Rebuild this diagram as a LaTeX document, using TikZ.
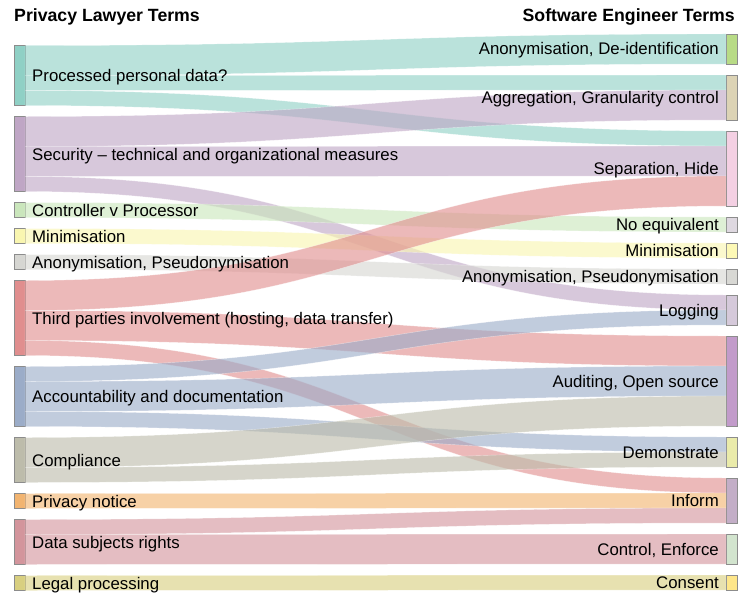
\documentclass[tikz,border=0pt]{standalone}
\usepackage{fontspec}
\setmainfont{Liberation Sans}
\usetikzlibrary{positioning,calc}

% lawyer side
\definecolor{proC}{HTML}{8FD0C5}
\definecolor{secC}{HTML}{BFA6C5}
\definecolor{ctlC}{HTML}{CAE6BC}
\definecolor{minC}{HTML}{F9F6B0}
\definecolor{anonC}{HTML}{D6D6D2}
\definecolor{thirdC}{HTML}{E08E8E}
\definecolor{accC}{HTML}{9BACC8}
\definecolor{compC}{HTML}{BDBCAB}
\definecolor{noticeC}{HTML}{F2B470}
\definecolor{rightsC}{HTML}{D3959C}
\definecolor{legalC}{HTML}{D8CF80}
% engineer side
\definecolor{deidC}{HTML}{B8DB86}
\definecolor{aggrC}{HTML}{DCD3B5}
\definecolor{sepC}{HTML}{F4D0E3}
\definecolor{noeqC}{HTML}{DED8E0}
\definecolor{rminC}{HTML}{FDF9B6}
\definecolor{pseudoC}{HTML}{D8D8D4}
\definecolor{logC}{HTML}{D5C9DA}
\definecolor{auditC}{HTML}{C29BCA}
\definecolor{demoC}{HTML}{EAEBAA}
\definecolor{informC}{HTML}{C3AEC7}
\definecolor{enforceC}{HTML}{D2E4CE}
\definecolor{consentC}{HTML}{FEE68A}

% colour, from node, offset, to node, offset, size (in units of 15pt)
\newcommand{\band}[6]{%
  \path[flow, fill=#1] let \p1=($(#2.north east)+(0,#3*15)$), \p2=($(#4.north west)+(0,#5*15)$), \p3=($(\p1)!.5!(\p2)$) in
    (\p1) .. controls (\x3,\y1) and (\x3,\y2) .. (\p2) -- (\x2,{\y2-#6*15pt})
    .. controls (\x3,{\y2-#6*15pt}) and (\x3,{\y1-#6*15pt}) .. (\x1,{\y1-#6*15pt}) -- cycle;}

\begin{document}
\begin{tikzpicture}[x=1pt, y=-1pt,
  bar/.style={draw=black!45, line width=.7pt, minimum width=11pt, inner sep=0pt, outer sep=0pt},
  lab/.style={font=\fontsize{16.8pt}{20pt}\selectfont, inner sep=0pt, text height=12pt, text depth=0pt},
  head/.style={font=\bfseries\fontsize{17.7pt}{21pt}\selectfont, inner sep=0pt},
  flow/.style={fill opacity=.62, draw=white, draw opacity=.5, line width=.4pt}]
\useasboundingbox (0,0) rectangle (738,594);

	\node[head, anchor=base west] (lawyer) at (14,22) {Privacy Lawyer Terms};
	\node[head, anchor=base east] (engineer) at (735,22) {Software Engineer Terms};

	\node[bar, anchor=north west, fill=proC, minimum height=60pt] (pro) at (14,45.5) {};
	\node[bar, fill=secC, minimum height=75pt, below=11pt of pro] (sec) {};
	\node[bar, fill=ctlC, minimum height=15pt, below=11pt of sec] (ctl) {};
	\node[bar, fill=minC, minimum height=15pt, below=11pt of ctl] (mini) {};
	\node[bar, fill=anonC, minimum height=15pt, below=11pt of mini] (anon) {};
	\node[bar, fill=thirdC, minimum height=75pt, below=11pt of anon] (third) {};
	\node[bar, fill=accC, minimum height=60pt, below=11pt of third] (acc) {};
	\node[bar, fill=compC, minimum height=45pt, below=11pt of acc] (comp) {};
	\node[bar, fill=noticeC, minimum height=15pt, below=11pt of comp] (notice) {};
	\node[bar, fill=rightsC, minimum height=45pt, below=11pt of notice] (rights) {};
	\node[bar, fill=legalC, minimum height=15pt, below=11pt of rights] (legal) {};

	\node[bar, anchor=north west, fill=deidC, minimum height=30pt] (deid) at (726,34) {};
	\node[bar, fill=aggrC, minimum height=45pt, below=11pt of deid] (aggr) {};
	\node[bar, fill=sepC, minimum height=75pt, below=11pt of aggr] (sep) {};
	\node[bar, fill=noeqC, minimum height=15pt, below=11pt of sep] (noeq) {};
	\node[bar, fill=rminC, minimum height=15pt, below=11pt of noeq] (rmin) {};
	\node[bar, fill=pseudoC, minimum height=15pt, below=11pt of rmin] (pseudo) {};
	\node[bar, fill=logC, minimum height=30pt, below=11pt of pseudo] (log) {};
	\node[bar, fill=auditC, minimum height=90pt, below=11pt of log] (audit) {};
	\node[bar, fill=demoC, minimum height=30pt, below=11pt of audit] (demo) {};
	\node[bar, fill=informC, minimum height=45pt, below=11pt of demo] (inform) {};
	\node[bar, fill=enforceC, minimum height=30pt, below=11pt of inform] (enforce) {};
	\node[bar, fill=consentC, minimum height=15pt, below=11pt of enforce] (consent) {};

	% flows
	\band{proC}{pro}{0}{deid}{0}{2}
	\band{proC}{pro}{2}{aggr}{0}{1}
	\band{proC}{pro}{3}{sep}{0}{1}
	\band{secC}{sec}{0}{aggr}{1}{2}
	\band{secC}{sec}{2}{sep}{1}{2}
	\band{secC}{sec}{4}{log}{0}{1}
	\band{ctlC}{ctl}{0}{noeq}{0}{1}
	\band{minC}{mini}{0}{rmin}{0}{1}
	\band{anonC}{anon}{0}{pseudo}{0}{1}
	\band{thirdC}{third}{0}{sep}{3}{2}
	\band{thirdC}{third}{2}{audit}{0}{2}
	\band{thirdC}{third}{4}{inform}{0}{1}
	\band{accC}{acc}{0}{log}{1}{1}
	\band{accC}{acc}{1}{audit}{2}{2}
	\band{accC}{acc}{3}{demo}{0}{1}
	\band{compC}{comp}{0}{audit}{4}{2}
	\band{compC}{comp}{2}{demo}{1}{1}
	\band{noticeC}{notice}{0}{inform}{1}{1}
	\band{rightsC}{rights}{0}{inform}{2}{1}
	\band{rightsC}{rights}{1}{enforce}{0}{2}
	\band{legalC}{legal}{0}{consent}{0}{1}

	\node[lab, right=7pt of pro] (proL) {Processed personal data?};
	\node[lab, right=7pt of sec] (secL) {Security \textendash\ technical and organizational measures};
	\node[lab, right=7pt of ctl] (ctlL) {Controller v Processor};
	\node[lab, right=7pt of mini] (miniL) {Minimisation};
	\node[lab, right=7pt of anon] (anonL) {Anonymisation, Pseudonymisation};
	\node[lab, right=7pt of third] (thirdL) {Third parties involvement (hosting, data transfer)};
	\node[lab, right=7pt of acc] (accL) {Accountability and documentation};
	\node[lab, right=7pt of comp] (compL) {Compliance};
	\node[lab, right=7pt of notice] (noticeL) {Privacy notice};
	\node[lab, right=7pt of rights] (rightsL) {Data subjects rights};
	\node[lab, right=7pt of legal] (legalL) {Legal processing};

	\node[lab, left=7pt of deid] (deidL) {Anonymisation, De-identification};
	\node[lab, left=7pt of aggr] (aggrL) {Aggregation, Granularity control};
	\node[lab, left=7pt of sep] (sepL) {Separation, Hide};
	\node[lab, left=7pt of noeq] (noeqL) {No equivalent};
	\node[lab, left=7pt of rmin] (rminL) {Minimisation};
	\node[lab, left=7pt of pseudo] (pseudoL) {Anonymisation, Pseudonymisation};
	\node[lab, left=7pt of log] (logL) {Logging};
	\node[lab, left=7pt of audit] (auditL) {Auditing, Open source};
	\node[lab, left=7pt of demo] (demoL) {Demonstrate};
	\node[lab, left=7pt of inform] (informL) {Inform};
	\node[lab, left=7pt of enforce] (enforceL) {Control, Enforce};
	\node[lab, left=7pt of consent] (consentL) {Consent};
\end{tikzpicture}
\end{document}
